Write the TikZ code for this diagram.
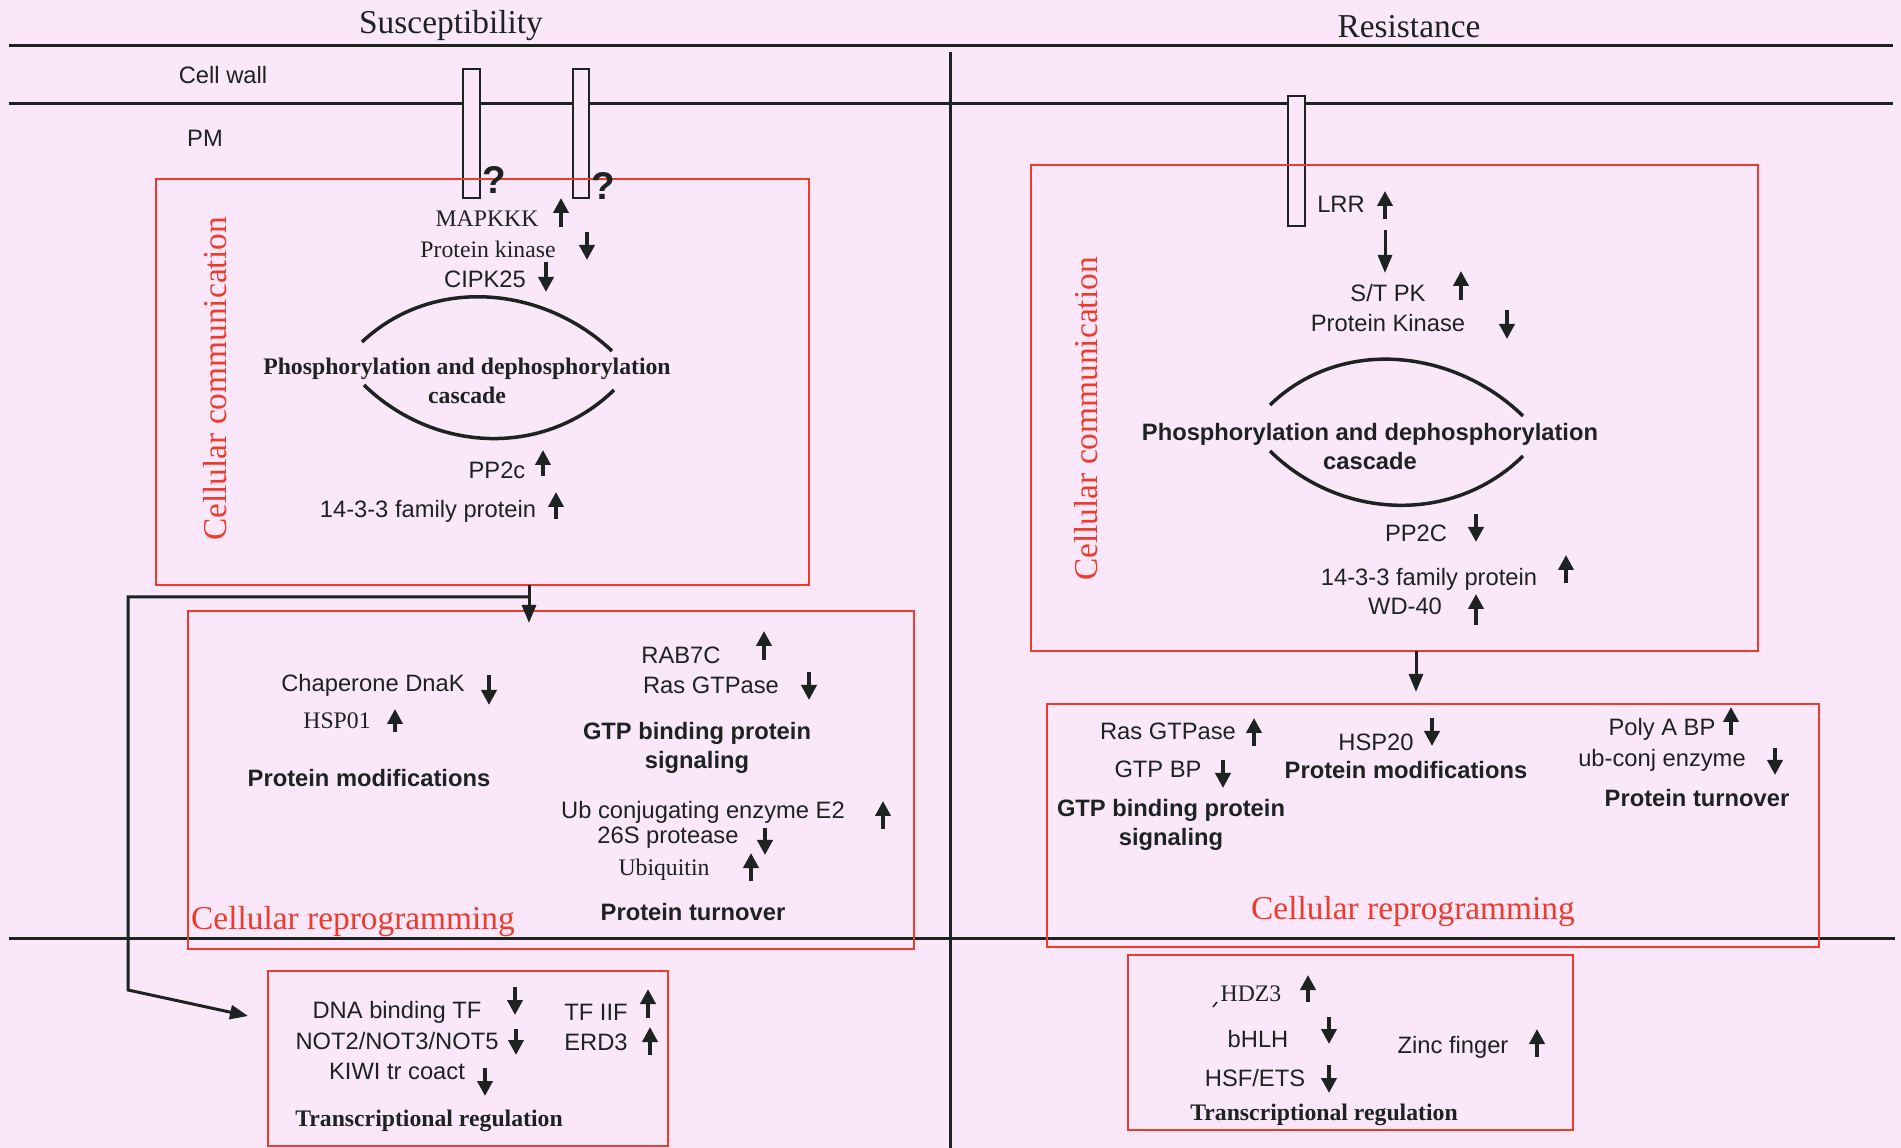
\documentclass[tikz,border=0pt]{standalone}
\usepackage{fontspec}
\setmainfont{Liberation Serif}
\setsansfont{Liberation Sans}
\usetikzlibrary{arrows.meta,fit}
\definecolor{bgpink}{HTML}{FBE7FA}
\definecolor{ink}{HTML}{1C2320}
\definecolor{boxred}{HTML}{EE3B2A}
\tikzset{
  lbl/.style={font=\sffamily\fontsize{13.5}{16}\selectfont,text=ink,inner sep=1pt},
  slbl/.style={lbl,font=\rmfamily\fontsize{13.5}{16}\selectfont},
  head/.style={lbl,font=\sffamily\bfseries\fontsize{13.5}{16.5}\selectfont,align=center},
  shead/.style={lbl,font=\rmfamily\bfseries\fontsize{13.5}{16.5}\selectfont,align=center},
  title/.style={lbl,font=\rmfamily\fontsize{19}{22}\selectfont},
  redtitle/.style={title,text=boxred},
  qmark/.style={lbl,font=\sffamily\bfseries\fontsize{22}{24}\selectfont},
  redbox/.style={draw=boxred,line width=0.5mm,inner sep=0pt,outer sep=0pt},
  mem/.style={draw=ink,line width=0.6mm},
  bar/.style={draw=ink,fill=bgpink,line width=0.45mm},
  cycle/.style={draw=ink,line width=0.7mm},
  updn/.style={draw=ink,line width=0.75mm,-{Triangle[length=3mm,width=3mm]}},
  arr/.style={draw=ink,line width=0.6mm,-{Triangle[length=3.6mm,width=2.8mm]}},
}
\begin{document}
\begin{tikzpicture}[x=0.2mm,y=-0.2mm]
  \fill[bgpink] (0,0) rectangle (1901,1148);
  \useasboundingbox (0,0) rectangle (1901,1148);

  % membranes and panels
  \draw[mem] (9,46) -- (1893,46);
  \draw[mem] (9,104) -- (1893,104);
  \draw[mem] (950,52) -- (950,1148);
  \draw[mem] (9,938) -- (1895,938);
  \node[title] (sus) at (451,26) {Susceptibility};
  \node[title] (res) at (1409,27) {Resistance};
  \node[lbl] (wall) at (223,75) {Cell wall};
  \node[lbl] (pm) at (205,138) {PM};

  % receptors
  \draw[bar] (463,69) rectangle (480,198);
  \draw[bar] (573,69) rectangle (589,198);
  \draw[bar] (1288,96) rectangle (1305,226);

  % boxes
  \node[redbox,fit={(156,179) (809,585)}] (commL) {};
  \node[redbox,fit={(188,611) (914,949)}] (reprogL) {};
  \node[redbox,fit={(268,971) (668,1146)}] (transL) {};
  \node[redbox,fit={(1031,165) (1758,651)}] (commR) {};
  \node[redbox,fit={(1047,704) (1819,947)}] (reprogR) {};
  \node[redbox,fit={(1128,955) (1573,1130)}] (transR) {};

  \node[qmark] (q1) at (494,180) {?};
  \node[qmark] (q2) at (603,186) {?};

  % susceptibility: cellular communication
  \node[redtitle,rotate=90] (ccL) at (215,379) {Cellular communication};
  \node[slbl] (mapkkk) at (487,219) {MAPKKK};
  \node[slbl] (pkL) at (488,249) {Protein kinase};
  \node[lbl] (cipk) at (485,279) {CIPK25};
  \draw[cycle] (362,342) .. controls (432,276) and (542,285) .. (612,351);
  \draw[cycle] (364,385) .. controls (434,453) and (544,458) .. (614,390);
  \node[shead] (phosL) at (467,381) {Phosphorylation and dephosphorylation\\cascade};
  \node[lbl] (pp2cL) at (497,470) {PP2c};
  \node[lbl] (fam1433L) at (428,511) {14-3-3 family protein};

  % susceptibility: cellular reprogramming
  \node[lbl] (dnak) at (373,685) {Chaperone DnaK};
  \node[slbl] (hsp01) at (337,721) {HSP01};
  \node[head] (pmodL) at (369,778) {Protein modifications};
  \node[lbl] (rab) at (681,655) {RAB7C};
  \node[lbl] (rasL) at (711,685) {Ras GTPase};
  \node[head] (gtpL) at (697,748) {GTP binding protein\\signaling};
  \node[lbl] (ube2) at (703,812) {Ub conjugating enzyme E2};
  \node[lbl] (prot26) at (668,838) {26S protease};
  \node[slbl] (ubq) at (664,870) {Ubiquitin};
  \node[head] (turnL) at (693,912) {Protein turnover};
  \node[redtitle] (crL) at (353,922) {Cellular reprogramming};

  % susceptibility: transcription
  \node[lbl] (dnatf) at (397,1012) {DNA binding TF};
  \node[lbl] (notx) at (397,1041) {NOT2/NOT3/NOT5};
  \node[lbl] (kiwi) at (397,1071) {KIWI tr coact};
  \node[shead] (trL) at (429,1121) {Transcriptional regulation};
  \node[lbl] (tf2f) at (596,1012) {TF IIF};
  \node[lbl] (erd3) at (596,1042) {ERD3};

  % resistance: cellular communication
  \node[redtitle,rotate=90] (ccR) at (1086,419) {Cellular communication};
  \node[lbl] (lrr) at (1341,204) {LRR};
  \node[lbl] (stpk) at (1388,293) {S/T PK};
  \node[lbl] (pkR) at (1388,323) {Protein Kinase};
  \draw[cycle] (1270,405) .. controls (1340,337) and (1453,348) .. (1523,416);
  \draw[cycle] (1270,451) .. controls (1340,520) and (1453,525) .. (1523,456);
  \node[head] (phosR) at (1370,447) {Phosphorylation and dephosphorylation\\cascade};
  \node[lbl] (pp2cR) at (1416,533) {PP2C};
  \node[lbl] (fam1433R) at (1429,579) {14-3-3 family protein};
  \node[lbl] (wd40) at (1405,606) {WD-40};

  % resistance: cellular reprogramming
  \node[lbl] (rasR) at (1168,731) {Ras GTPase};
  \node[lbl] (gtpbp) at (1158,769) {GTP BP};
  \node[head] (gtpR) at (1171,825) {GTP binding protein\\signaling};
  \node[lbl] (hsp20) at (1376,742) {HSP20};
  \node[head] (pmodR) at (1406,770) {Protein modifications};
  \node[lbl] (polya) at (1662,729) {Poly A BP};
  \node[lbl] (ubconj) at (1662,760) {ub-conj enzyme};
  \node[head] (turnR) at (1697,798) {Protein turnover};
  \node[redtitle] (crR) at (1413,912) {Cellular reprogramming};

  % resistance: transcription
  \draw[ink,line width=0.3mm] (1213,1007) -- (1217,1002);
  \node[slbl] (hdz3) at (1251,994) {HDZ3};
  \node[lbl] (bhlh) at (1258,1039) {bHLH};
  \node[lbl] (hsfets) at (1255,1078) {HSF/ETS};
  \node[shead] (trR) at (1324,1115) {Transcriptional regulation};
  \node[lbl] (zinc) at (1453,1047) {Zinc finger};

  % up / down regulation marks
  \foreach \x/\a/\b in {561/227/198, 587/232/260, 546/262/292, 543/476/450,
      556/519/492, 489/675/705, 395/732/709, 764/660/631, 809/672/700,
      883/829/801, 765/828/855, 751/881/853, 515/987/1015, 516/1029/1055,
      485/1068/1096, 648/1018/989, 650/1055/1027,
      1385/219/191, 1461/300/271, 1507/310/339, 1476/514/542, 1566/583/555,
      1476/625/594, 1254/746/718, 1223/760/788, 1432/718/746, 1731/735/707,
      1775/748/775, 1308/1002/975, 1329/1017/1044, 1329/1065/1093,
      1537/1057/1029}
    \draw[updn] (\x,\a) -- (\x,\b);

  % signal flow
  \coordinate (tapL) at (529,597);
  \coordinate (inL) at (529,623);
  \coordinate (bendA) at (128,597);
  \coordinate (bendB) at (128,990);
  \coordinate (inT) at (248,1016);
  \draw[arr] (commL.south -| inL) -- (inL);
  \draw[arr] (tapL) -- (bendA) -- (bendB) -- (inT);
  \coordinate (lrrA) at (1385,230);
  \coordinate (lrrB) at (1385,273);
  \draw[arr] (lrrA) -- (lrrB);
  \coordinate (inR) at (1416,692);
  \draw[arr] (commR.south -| inR) -- (inR);
\end{tikzpicture}
\end{document}
